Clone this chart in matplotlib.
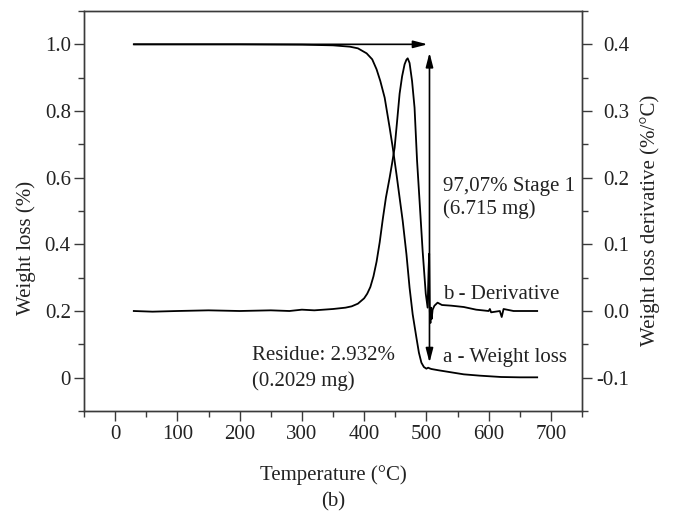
import matplotlib
matplotlib.use('Agg')
import matplotlib.pyplot as plt
from matplotlib.ticker import MultipleLocator, FixedLocator, FixedFormatter

plt.rcParams['font.family'] = ['Liberation Serif', 'DejaVu Serif']
plt.rcParams['axes.unicode_minus'] = False
plt.rcParams['font.size'] = 15

# ---- data ----
temp_w = [30, 100, 200, 300, 350, 377, 390, 404, 413, 420, 426, 433, 441, 446, 452,
          457, 462, 468, 473, 478, 484, 488, 492, 496, 500, 503, 505, 508, 520, 540,
          560, 586, 620, 650, 678]
weight = [1.0, 1.0, 1.0, 0.999, 0.997, 0.993, 0.988, 0.973, 0.955, 0.925, 0.89, 0.84,
          0.75, 0.69, 0.61, 0.54, 0.47, 0.37, 0.27, 0.19, 0.12, 0.075, 0.045, 0.032,
          0.027, 0.030, 0.028, 0.026, 0.022, 0.016, 0.010, 0.006, 0.002, 0.001, 0.001]

temp_d = [30, 60, 100, 150, 200, 250, 280, 300, 320, 350, 370, 380, 390, 400, 405,
          410, 415, 420, 425, 430, 435, 441, 445, 449, 453, 457, 461, 465, 468, 470,
          473, 477, 481, 485, 489, 494, 499, 502, 503.5, 504.5, 505.5, 506.5, 507.5,
          508.5, 510, 513, 518, 525, 540, 560, 580, 600, 602, 604, 618, 621, 624,
          640, 678]
deriv = [0.0, -0.001, 0.0, 0.001, 0.0, 0.001, 0.0, 0.002, 0.001, 0.003, 0.005, 0.007,
         0.011, 0.019, 0.026, 0.036, 0.052, 0.074, 0.103, 0.138, 0.17, 0.2, 0.222, 0.245,
         0.285, 0.326, 0.352, 0.37, 0.377, 0.379, 0.372, 0.345, 0.305, 0.226, 0.166,
         0.09, 0.026, 0.005, 0.06, 0.086, 0.0, -0.018, 0.005, -0.012, 0.002, 0.008,
         0.0125, 0.009, 0.008, 0.006, 0.002, 0.0, 0.003, -0.002, 0.0, -0.009, 0.003,
         0.0, 0.0]

xticks = [0, 100, 200, 300, 400, 500, 600, 700]
left_ticks = [0, 0.2, 0.4, 0.6, 0.8, 1.0]
left_labels = ['0', '0.2', '0.4', '0.6', '0.8', '1.0']
right_ticks = [-0.1, 0.0, 0.1, 0.2, 0.3, 0.4]
right_labels = ['-0.1', '0.0', '0.1', '0.2', '0.3', '0.4']

fig = plt.figure(figsize=(6.73, 5.11), dpi=100)
ax = fig.add_axes([84/673, 100/511, 498/673, 400/511])
ax2 = ax.twinx()

ax.plot(temp_w, weight, color='k', lw=1.3)
ax2.plot(temp_d, deriv, color='k', lw=1.3)

ax.set_xlim(-50, 750)
ax.set_ylim(-0.1, 1.1)
ax2.set_ylim(-0.15, 0.45)

spine_c = '#3a3a3a'
for a in (ax, ax2):
    for s in a.spines.values():
        s.set_color(spine_c)
        s.set_linewidth(1.0)

ax.xaxis.set_major_locator(FixedLocator(xticks))
ax.xaxis.set_minor_locator(MultipleLocator(50))
ax.yaxis.set_major_locator(FixedLocator(left_ticks))
ax.yaxis.set_major_formatter(FixedFormatter(left_labels))
ax.yaxis.set_minor_locator(MultipleLocator(0.1))
ax2.yaxis.set_major_locator(FixedLocator(right_ticks))
ax2.yaxis.set_major_formatter(FixedFormatter(right_labels))
ax2.yaxis.set_minor_locator(MultipleLocator(0.05))

ax.tick_params(which='both', direction='out', color=spine_c, width=1.0,
               top=False, right=False, labelsize=15, colors='#222222')
ax.tick_params(which='major', length=7)
ax.tick_params(which='minor', length=4)
ax.tick_params(axis='x', pad=3)
ax.tick_params(axis='y', pad=2.5)
ax2.tick_params(which='both', direction='out', color=spine_c, width=1.0,
                labelsize=15, colors='#222222')
ax2.tick_params(which='major', length=7, pad=27)
ax2.tick_params(which='minor', length=4)
for lab in ax2.get_yticklabels():
    lab.set_horizontalalignment('right')

ax.set_xlabel('Temperature (°C)', fontsize=15, color='#222222')
ax.xaxis.set_label_coords(0.5, (411 - 475) / 400)
ax.xaxis.label.set_va('center')
fig.text(333/673, 1 - 502/511, '(b)', ha='center', va='center', fontsize=15, color='#222222')

ax.set_ylabel('Weight loss (%)', fontsize=15, color='#222222')
ax.yaxis.set_label_coords((26 - 84) / 498, (411 - 248) / 400)
ax.yaxis.label.set_va('center')
ax2.set_ylabel('Weight loss derivative (%/°C)', fontsize=15, color='#222222')
ax2.yaxis.set_label_coords((650 - 84) / 498, (411 - 220) / 400)
ax2.yaxis.label.set_va('center')

# arrows
ax.annotate('', xy=(502, 1.0), xytext=(30, 1.0),
            arrowprops=dict(arrowstyle='-|>,head_length=0.85,head_width=0.22',
                            color='k', lw=1.2, shrinkA=0, shrinkB=0, mutation_scale=10))
ax.annotate('', xy=(505, 0.975), xytext=(505, 0.045),
            arrowprops=dict(arrowstyle='<|-|>,head_length=0.85,head_width=0.22',
                            color='k', lw=1.2, shrinkA=0, shrinkB=0, mutation_scale=10))

tc = '#222222'
ax.text(526, 0.559, '97,07% Stage 1', fontsize=15, va='baseline', color=tc)
ax.text(526, 0.49, '(6.715 mg)', fontsize=15, va='baseline', color=tc)
ax.text(526, 0.235, 'b - Derivative', fontsize=15, va='baseline', color=tc)
ax.text(526, 0.047, 'a - Weight loss', fontsize=15, va='baseline', color=tc)
ax.text(220.5, 0.054, 'Residue: 2.932%', fontsize=15, va='baseline', color=tc)
ax.text(220.5, -0.024, '(0.2029 mg)', fontsize=15, va='baseline', color=tc)

fig.savefig('out.png', dpi=100)
